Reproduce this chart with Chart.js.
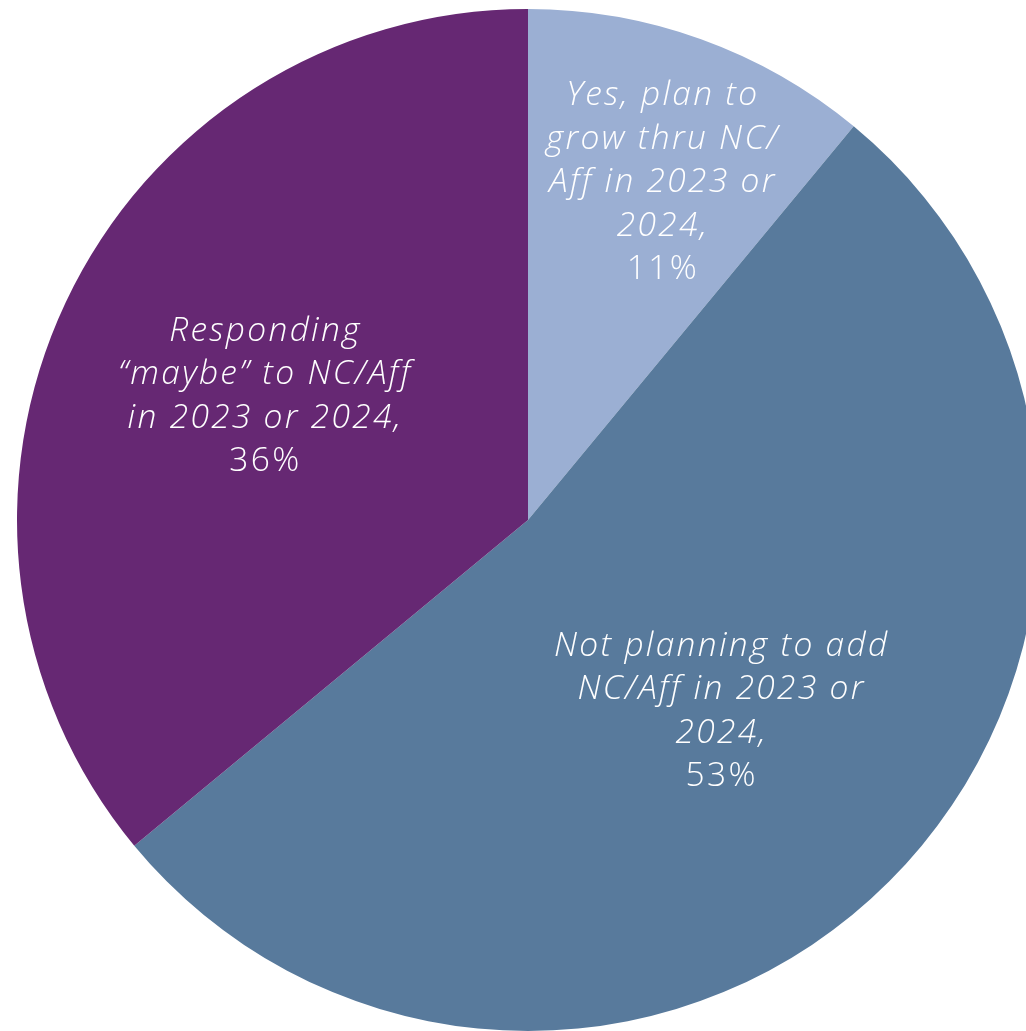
<!DOCTYPE html>
<html>
<head>
<meta charset="utf-8">
<script src="https://cdn.jsdelivr.net/npm/chart.js@4/dist/chart.umd.min.js"></script>
<style>
  html, body { margin: 0; padding: 0; background: #ffffff; overflow: hidden; width: 1026px; height: 1031px; }
  #wrap { position: absolute; left: 17px; top: 9px; width: 1022px; height: 1022px; }
</style>
</head>
<body>
<div id="wrap"><canvas id="c"></canvas></div>
<script>
// Data
const categories = [
  "Yes, plan to grow thru NC/Aff in 2023 or 2024",
  "Not planning to add NC/Aff in 2023 or 2024",
  "Responding \u201cmaybe\u201d to NC/Aff in 2023 or 2024"
];
const categoryLines = [
  ["Yes, plan to", "grow thru NC/", "Aff in 2023 or", "2024,"],
  ["Not planning to add", "NC/Aff in 2023 or", "2024,"],
  ["Responding", "\u201cmaybe\u201d to NC/Aff", "in 2023 or 2024,"]
];
const values = [11, 53, 36];
const colors = ["#9BAFD3", "#587A9C", "#662873"];

const labelPlugin = {
  id: 'sliceLabels',
  afterDatasetsDraw(chart, args, opts) {
    const ctx = chart.ctx;
    const meta = chart.getDatasetMeta(0);
    const total = values.reduce((a, b) => a + b, 0);
    meta.data.forEach((arc, i) => {
      const p = arc.getProps(['x', 'y', 'startAngle', 'endAngle', 'outerRadius'], true);
      const mid = (p.startAngle + p.endAngle) / 2;
      const r = p.outerRadius * opts.radial[i];
      const cx = p.x + Math.cos(mid) * r + opts.dx[i];
      const cy = p.y + Math.sin(mid) * r + opts.dy[i];
      const lines = categoryLines[i].slice();
      const pct = Math.round(values[i] / total * 100) + '%';
      const n = lines.length + 1;
      const lh = opts.lineHeight;
      let y = cy - (n - 1) * lh / 2;
      ctx.save();
      ctx.fillStyle = '#ffffff';
      ctx.textAlign = 'center';
      ctx.textBaseline = 'middle';
      if ('letterSpacing' in ctx) ctx.letterSpacing = opts.spacing + 'px';
      lines.forEach(t => {
        ctx.font = 'italic 300 ' + opts.size + 'px "Open Sans", Lato, sans-serif';
        ctx.fillText(t, cx, y);
        y += lh;
      });
      ctx.font = '300 ' + opts.size + 'px "Open Sans", Lato, sans-serif';
      ctx.fillText(pct, cx, y);
      ctx.restore();
    });
  }
};

new Chart(document.getElementById('c'), {
  type: 'pie',
  data: {
    labels: categories,
    datasets: [{
      data: values,
      backgroundColor: colors,
      borderWidth: 0
    }]
  },
  options: {
    responsive: true,
    maintainAspectRatio: false,
    animation: false,
    layout: { padding: 0 },
    plugins: {
      legend: { display: false },
      tooltip: { enabled: false },
      sliceLabels: {
        radial: [0.71, 0.536, 0.568],
        dx: [12, 0, 0],
        dy: [4, -2, 0],
        size: 33.5,
        spacing: 2.3,
        lineHeight: 43.5
      }
    }
  },
  plugins: [labelPlugin]
});
</script>
</body>
</html>
